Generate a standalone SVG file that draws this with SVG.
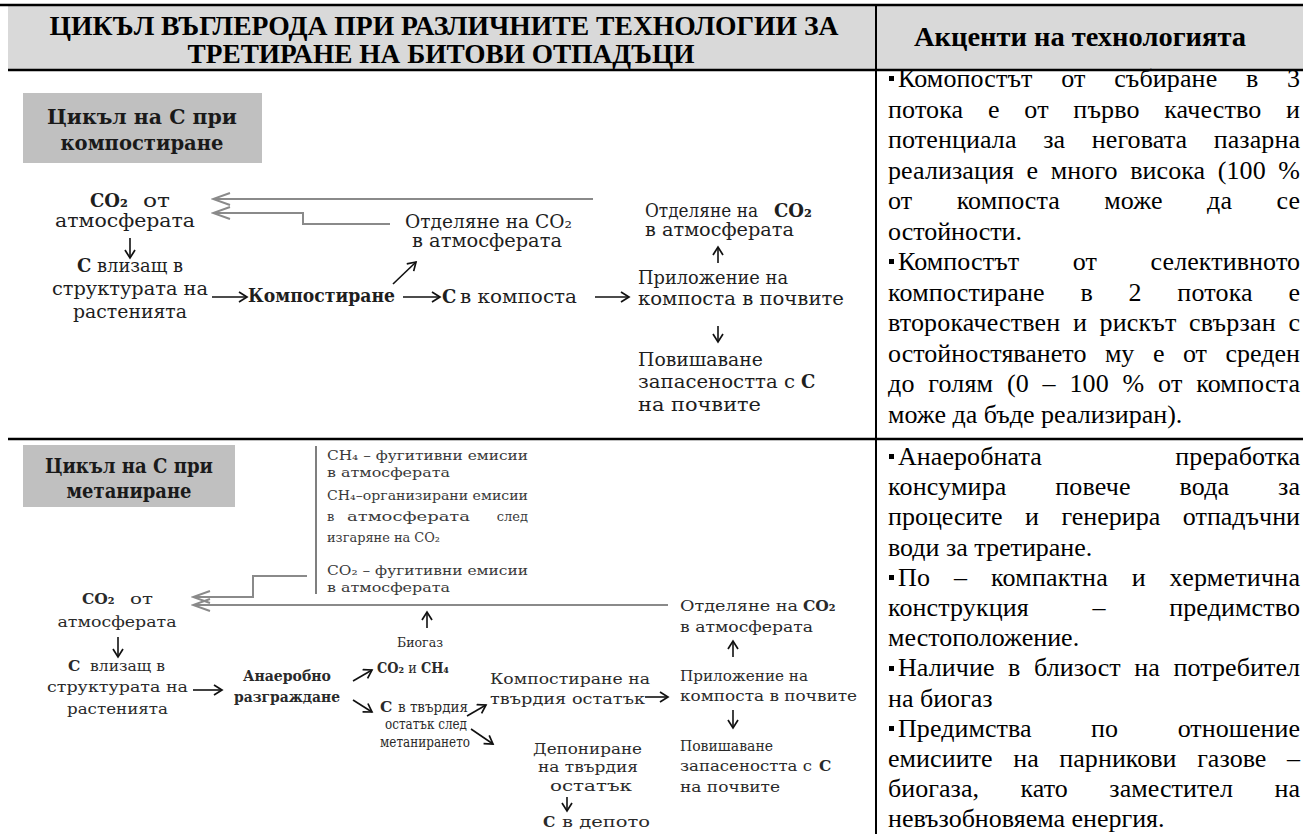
<svg xmlns="http://www.w3.org/2000/svg" width="1303" height="834" viewBox="0 0 1303 834">
<style>
.hd{font-family:"Liberation Serif","Times New Roman",serif;font-weight:bold;font-size:27px;fill:#000}
.rt{font-family:"Liberation Serif","Times New Roman",serif;font-size:26px;fill:#000}
.d1{font-family:"DejaVu Serif",serif;font-size:18px;fill:#1e1e1e}
.d2{font-family:"DejaVu Serif",serif;font-size:15.5px;fill:#2a2a2a}
.d3{font-family:"DejaVu Serif",serif;font-size:13px;fill:#3a3a3a}
.bx{font-family:"DejaVu Serif",serif;font-weight:bold;font-size:20px;fill:#1a1a1a}
.b{font-weight:bold}
.grid{stroke:#000;stroke-width:2.5;fill:none}
.gl{stroke:#8a8a8a;stroke-width:2;fill:none;marker-end:url(#gh)}
.ar{stroke:#111;stroke-width:1.6;fill:none;marker-end:url(#ah)}
.blt{fill:#000}
</style>
<defs>
<marker id="ah" viewBox="-10 -6 12 12" refX="0" refY="0" markerWidth="12" markerHeight="12" markerUnits="userSpaceOnUse" orient="auto"><path d="M-8,-5 L0,0 L-8,5" fill="none" stroke="#111" stroke-width="1.7"/></marker>
<marker id="gh" viewBox="-20 -8 22 16" refX="0" refY="0" markerWidth="22" markerHeight="16" markerUnits="userSpaceOnUse" orient="auto"><path d="M-17,-6 L0,0 L-17,6" fill="none" stroke="#8a8a8a" stroke-width="2"/></marker>
</defs>
<rect width="1303" height="834" fill="#fff"/>
<g id="table">
<rect x="8" y="6" width="1295" height="64" fill="#d9d9d9"/>
<line class="grid" x1="0" y1="5" x2="1303" y2="5"/>
<line class="grid" x1="8" y1="70" x2="1303" y2="70"/>
<line class="grid" x1="8" y1="439" x2="1303" y2="439"/>
<line x1="876" y1="5" x2="876" y2="834" stroke="#000" stroke-width="2"/>
</g>
<g id="header">
<text class="hd" x="444" y="35" text-anchor="middle" textLength="789" lengthAdjust="spacingAndGlyphs">ЦИКЪЛ ВЪГЛЕРОДА ПРИ  РАЗЛИЧНИТЕ ТЕХНОЛОГИИ ЗА</text>
<text class="hd" x="441" y="63" text-anchor="middle" textLength="507" lengthAdjust="spacingAndGlyphs">ТРЕТИРАНЕ НА БИТОВИ ОТПАДЪЦИ</text>
<text class="hd" x="1080" y="46" text-anchor="middle" textLength="332" lengthAdjust="spacingAndGlyphs">Акценти на технологията</text>
</g>
<g id="accents-composting">
<rect class="blt" x="889" y="76" width="5" height="5"/>
<text class="rt" x="898" y="87" textLength="402" lengthAdjust="spacing" style="word-spacing:22px">Комопостът от събиране в 3</text>
<text class="rt" x="888" y="117.5" textLength="412" lengthAdjust="spacing" style="word-spacing:18px">потока е от първо качество и</text>
<text class="rt" x="888" y="148" textLength="412" lengthAdjust="spacing" style="word-spacing:20px">потенциала за неговата пазарна</text>
<text class="rt" x="888" y="178.5" textLength="412" lengthAdjust="spacing" style="word-spacing:6px">реализация е много висока (100 %</text>
<text class="rt" x="888" y="209" textLength="412" lengthAdjust="spacing" style="word-spacing:38px">от компоста може да се</text>
<text class="rt" x="888" y="239.5">остойности.</text>
<rect class="blt" x="889" y="259" width="5" height="5"/>
<text class="rt" x="898" y="270" textLength="402" lengthAdjust="spacing" style="word-spacing:47px">Компостът от селективното</text>
<text class="rt" x="888" y="300.5" textLength="412" lengthAdjust="spacing" style="word-spacing:29px">компостиране в 2 потока е</text>
<text class="rt" x="888" y="331" textLength="412" lengthAdjust="spacing" style="word-spacing:6px">второкачествен и рискът свързан с</text>
<text class="rt" x="888" y="361.5" textLength="412" lengthAdjust="spacing" style="word-spacing:12px">остойностяването му е от среден</text>
<text class="rt" x="888" y="392" textLength="412" lengthAdjust="spacing" style="word-spacing:7px">до голям (0 – 100 % от компоста</text>
<text class="rt" x="888" y="422.5">може да бъде реализиран).</text>
</g>
<g id="accents-methane">
<rect class="blt" x="889" y="454" width="5" height="5"/>
<text class="rt" x="898" y="465" textLength="402" lengthAdjust="spacing" style="word-spacing:127px">Анаеробната преработка</text>
<text class="rt" x="888" y="495.2" textLength="412" lengthAdjust="spacing" style="word-spacing:42px">консумира повече вода за</text>
<text class="rt" x="888" y="525.4" textLength="412" lengthAdjust="spacing" style="word-spacing:16px">процесите и генерира отпадъчни</text>
<text class="rt" x="888" y="555.6">води за третиране.</text>
<rect class="blt" x="889" y="575" width="5" height="5"/>
<text class="rt" x="898" y="585.8" textLength="402" lengthAdjust="spacing" style="word-spacing:17px">По – компактна и херметична</text>
<text class="rt" x="888" y="616" textLength="412" lengthAdjust="spacing" style="word-spacing:57px">конструкция – предимство</text>
<text class="rt" x="888" y="646.2">местоположение.</text>
<rect class="blt" x="889" y="666" width="5" height="5"/>
<text class="rt" x="898" y="676.4" textLength="402" lengthAdjust="spacing" style="word-spacing:7px">Наличие в близост на потребител</text>
<text class="rt" x="888" y="706.6">на биогаз</text>
<rect class="blt" x="889" y="726" width="5" height="5"/>
<text class="rt" x="898" y="736.8" textLength="402" lengthAdjust="spacing" style="word-spacing:53px">Предимства по отношение</text>
<text class="rt" x="888" y="767" textLength="412" lengthAdjust="spacing" style="word-spacing:14px">емисиите на парникови газове –</text>
<text class="rt" x="888" y="797.2" textLength="412" lengthAdjust="spacing" style="word-spacing:35px">биогаза, като заместител на</text>
<text class="rt" x="888" y="827.4">невъзобновяема енергия.</text>
</g>
<g id="title-composting">
<rect x="23" y="93" width="239" height="70" fill="#c0c0c0"/>
<text class="bx" x="142" y="124" text-anchor="middle" textLength="190" lengthAdjust="spacingAndGlyphs">Цикъл на С при</text>
<text class="bx" x="142" y="150" text-anchor="middle" textLength="163" lengthAdjust="spacingAndGlyphs">компостиране</text>
</g>
<g id="c1-co2-atm">
<text class="d1 b" x="90" y="207">CO₂</text>
<text class="d1" x="143" y="207" textLength="27" lengthAdjust="spacingAndGlyphs">от</text>
<text class="d1" x="125" y="227" text-anchor="middle" textLength="140" lengthAdjust="spacingAndGlyphs">атмосферата</text>
</g>
<g id="c1-plants">
<text class="d1 b" x="77" y="272">С</text>
<text class="d1" x="97" y="272" textLength="86" lengthAdjust="spacingAndGlyphs">влизащ в</text>
<text class="d1" x="52" y="295" textLength="156" lengthAdjust="spacingAndGlyphs">структурата на</text>
<text class="d1" x="73" y="318" textLength="114" lengthAdjust="spacingAndGlyphs">растенията</text>
</g>
<g id="c1-composting">
<text class="d1 b" x="248" y="302" textLength="147" lengthAdjust="spacingAndGlyphs">Компостиране</text>
</g>
<g id="c1-release-mid">
<text class="d1" x="405" y="228" textLength="167" lengthAdjust="spacingAndGlyphs">Отделяне на CO₂</text>
<text class="d1" x="412" y="247" textLength="150" lengthAdjust="spacingAndGlyphs">в атмосферата</text>
</g>
<g id="c1-c-compost">
<text class="d1 b" x="442" y="303">С</text>
<text class="d1" x="460" y="303" textLength="117" lengthAdjust="spacingAndGlyphs">в компоста</text>
</g>
<g id="c1-release-right">
<text class="d1" x="645" y="217" textLength="113" lengthAdjust="spacingAndGlyphs">Отделяне на</text>
<text class="d1 b" x="774" y="217">CO₂</text>
<text class="d1" x="645" y="236" textLength="149" lengthAdjust="spacingAndGlyphs">в атмосферата</text>
</g>
<g id="c1-application">
<text class="d1" x="638" y="284" textLength="150" lengthAdjust="spacingAndGlyphs">Приложение на</text>
<text class="d1" x="638" y="305" textLength="206" lengthAdjust="spacingAndGlyphs">компоста в почвите</text>
</g>
<g id="c1-increase">
<text class="d1" x="638" y="366" textLength="125" lengthAdjust="spacingAndGlyphs">Повишаване</text>
<text class="d1" x="638" y="388" textLength="157" lengthAdjust="spacingAndGlyphs">запасеността с</text>
<text class="d1 b" x="801" y="388">С</text>
<text class="d1" x="638" y="411" textLength="123" lengthAdjust="spacingAndGlyphs">на почвите</text>
</g>
<g id="title-methane">
<rect x="23" y="445" width="212" height="62" fill="#c0c0c0"/>
<text class="bx" x="129" y="473" text-anchor="middle" textLength="168" lengthAdjust="spacingAndGlyphs">Цикъл на С при</text>
<text class="bx" x="129" y="498" text-anchor="middle" textLength="125" lengthAdjust="spacingAndGlyphs">метаниране</text>
</g>
<g id="c2-emissions">
<line x1="316" y1="446" x2="316" y2="594" stroke="#555" stroke-width="1.5"/>
<text class="d3" x="327" y="460" textLength="201" lengthAdjust="spacingAndGlyphs">CH₄ – фугитивни емисии</text>
<text class="d3" x="327" y="477" textLength="123" lengthAdjust="spacingAndGlyphs">в атмосферата</text>
<text class="d3" x="327" y="500" textLength="201" lengthAdjust="spacingAndGlyphs">CH₄–организирани емисии</text>
<text class="d3" x="327" y="521">в</text>
<text class="d3" x="347" y="521" textLength="123" lengthAdjust="spacingAndGlyphs">атмосферата</text>
<text class="d3" x="528" y="521" text-anchor="end">след</text>
<text class="d3" x="327" y="542" textLength="113" lengthAdjust="spacingAndGlyphs">изгаряне на CO₂</text>
<text class="d3" x="327" y="575" textLength="201" lengthAdjust="spacingAndGlyphs">CO₂ – фугитивни емисии</text>
<text class="d3" x="327" y="592" textLength="123" lengthAdjust="spacingAndGlyphs">в атмосферата</text>
</g>
<g id="c2-co2-atm">
<text class="d2 b" x="82" y="604">CO₂</text>
<text class="d2" x="130" y="604" textLength="23" lengthAdjust="spacingAndGlyphs">от</text>
<text class="d2" x="117" y="627" text-anchor="middle" textLength="119" lengthAdjust="spacingAndGlyphs">атмосферата</text>
</g>
<g id="c2-plants">
<text class="d2 b" x="68" y="671">С</text>
<text class="d2" x="90" y="671" textLength="75" lengthAdjust="spacingAndGlyphs">влизащ в</text>
<text class="d2" x="47" y="692" textLength="141" lengthAdjust="spacingAndGlyphs">структурата на</text>
<text class="d2" x="67" y="714" textLength="101" lengthAdjust="spacingAndGlyphs">растенията</text>
</g>
<g id="c2-anaerobic">
<text class="d2 b" x="287" y="681" text-anchor="middle" textLength="88" lengthAdjust="spacingAndGlyphs">Анаеробно</text>
<text class="d2 b" x="287" y="702" text-anchor="middle" textLength="106" lengthAdjust="spacingAndGlyphs">разграждане</text>
</g>
<g id="c2-biogas">
<text class="d2" x="420" y="647" text-anchor="middle" textLength="46" lengthAdjust="spacingAndGlyphs" style="font-size:13.5px">Биогаз</text>
<text class="d2" x="377" y="673" textLength="72" lengthAdjust="spacingAndGlyphs" style="font-size:14px"><tspan class="b">CO₂</tspan> и <tspan class="b">CH₄</tspan></text>
</g>
<g id="c2-solid">
<text class="d2 b" x="380" y="712">С</text>
<text class="d2" x="398" y="712" textLength="70" lengthAdjust="spacingAndGlyphs">в твърдия</text>
<text class="d2" x="385" y="729" textLength="82" lengthAdjust="spacingAndGlyphs">остатък след</text>
<text class="d2" x="380" y="747" textLength="90" lengthAdjust="spacingAndGlyphs">метанирането</text>
</g>
<g id="c2-compost-solid">
<text class="d2" x="490" y="684" textLength="160" lengthAdjust="spacingAndGlyphs">Компостиране на</text>
<text class="d2" x="490" y="704" textLength="155" lengthAdjust="spacingAndGlyphs">твърдия остатък</text>
</g>
<g id="c2-landfill">
<text class="d2" x="533" y="754" textLength="109" lengthAdjust="spacingAndGlyphs">Депониране</text>
<text class="d2" x="538" y="772" textLength="100" lengthAdjust="spacingAndGlyphs">на твърдия</text>
<text class="d2" x="550" y="791" textLength="82" lengthAdjust="spacingAndGlyphs">остатък</text>
</g>
<g id="c2-depot">
<text class="d2 b" x="543" y="827">С</text>
<text class="d2" x="562" y="827" textLength="88" lengthAdjust="spacingAndGlyphs">в депото</text>
</g>
<g id="c2-release">
<text class="d2" x="680" y="611" textLength="118" lengthAdjust="spacingAndGlyphs">Отделяне на</text>
<text class="d2 b" x="803" y="611">CO₂</text>
<text class="d2" x="680" y="632" textLength="133" lengthAdjust="spacingAndGlyphs">в атмосферата</text>
</g>
<g id="c2-application">
<text class="d2" x="680" y="681" textLength="128" lengthAdjust="spacingAndGlyphs">Приложение на</text>
<text class="d2" x="680" y="701" textLength="177" lengthAdjust="spacingAndGlyphs">компоста в почвите</text>
</g>
<g id="c2-increase">
<text class="d2" x="680" y="751" textLength="93" lengthAdjust="spacingAndGlyphs">Повишаване</text>
<text class="d2" x="680" y="771" textLength="132" lengthAdjust="spacingAndGlyphs">запасеността с</text>
<text class="d2 b" x="819" y="771">С</text>
<text class="d2" x="680" y="792" textLength="100" lengthAdjust="spacingAndGlyphs">на почвите</text>
</g>
<g id="connectors">
<path class="gl" d="M593,199 H213"/>
<path class="gl" d="M390,224 H303 V213 H213"/>
<path class="ar" d="M130,238 V258"/>
<path class="ar" d="M212,297 H247"/>
<path class="ar" d="M393,284 L416,262"/>
<path class="ar" d="M403,297 H440"/>
<path class="ar" d="M595,297 H629"/>
<path class="ar" d="M718,263 V247"/>
<path class="ar" d="M718,326 V342"/>
<path class="gl" d="M307,576 H253 V597 H193"/>
<path class="gl" d="M668,605 H193"/>
<path class="ar" d="M427,628 V612"/>
<path class="ar" d="M118,637 V657"/>
<path class="ar" d="M193,690 H222"/>
<path class="ar" d="M353,681 L372,670"/>
<path class="ar" d="M353,700 L372,712"/>
<path class="ar" d="M467,716 L486,705"/>
<path class="ar" d="M471,729 L493,744"/>
<path class="ar" d="M645,697 H668"/>
<path class="ar" d="M733,657 V641"/>
<path class="ar" d="M733,710 V728"/>
<path class="ar" d="M567,797 V811"/>
</g>
</svg>
